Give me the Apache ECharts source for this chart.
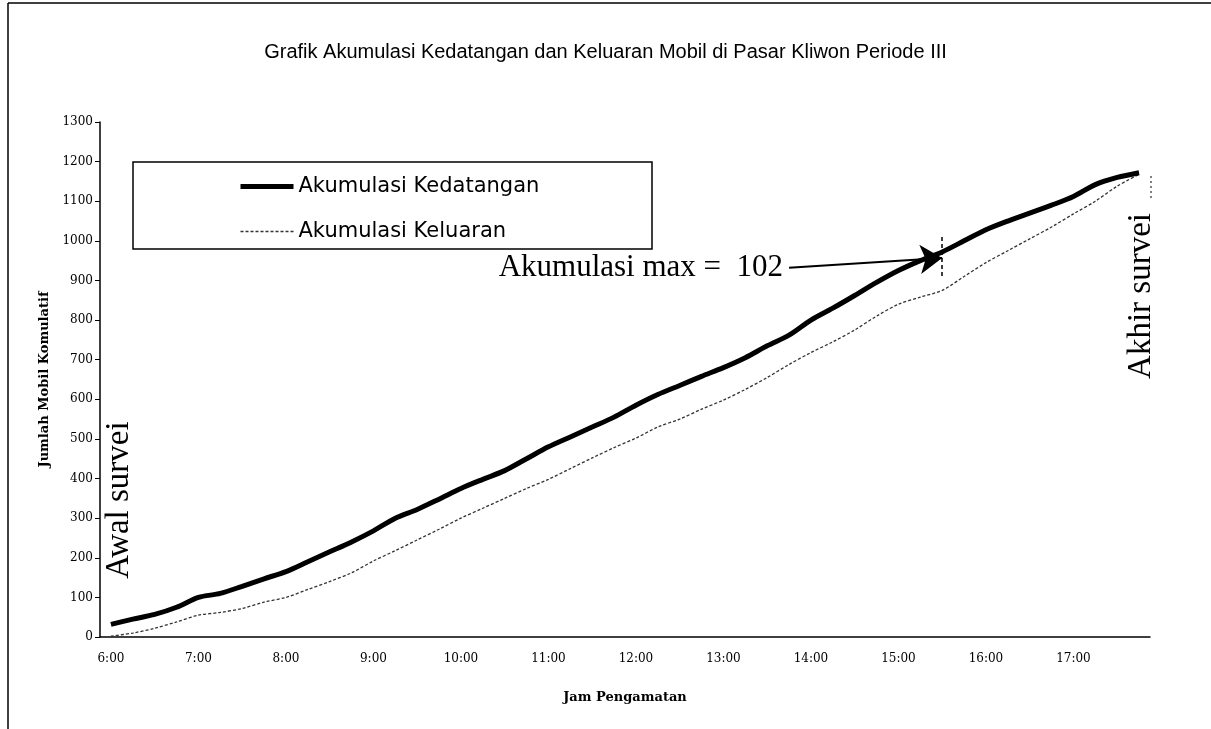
<!DOCTYPE html>
<html>
<head>
<meta charset="utf-8">
<script src="https://cdn.jsdelivr.net/npm/echarts@6/dist/echarts.min.js"></script>
<style>
html,body{margin:0;padding:0;background:#fff;}
#chart{width:1211px;height:729px;}
</style>
</head>
<body>
<div id="chart"></div>
<script>
// 15-minute observation slots, 6:00 .. 17:45
const times = ["6:00","6:15","6:30","6:45","7:00","7:15","7:30","7:45","8:00","8:15","8:30","8:45",
  "9:00","9:15","9:30","9:45","10:00","10:15","10:30","10:45","11:00","11:15","11:30","11:45",
  "12:00","12:15","12:30","12:45","13:00","13:15","13:30","13:45","14:00","14:15","14:30","14:45",
  "15:00","15:15","15:30","15:45","16:00","16:15","16:30","16:45","17:00","17:15","17:30","17:45"];
const kedatangan = [32,45,57,75,100,110,128,147,165,190,215,240,
  268,300,322,348,375,398,420,450,480,505,530,555,
  585,612,635,658,680,705,735,762,800,830,862,895,
  925,950,972,1000,1028,1050,1070,1090,1112,1142,1160,1172];
const keluaran = [2,10,22,38,55,62,72,88,100,120,140,162,
  192,218,245,272,300,325,350,375,398,425,452,478,
  502,530,550,575,598,625,655,688,718,745,775,810,
  840,858,875,910,945,975,1005,1035,1068,1100,1138,1168];
const yTicks = {min:0, max:1300, interval:100};
const maxNote = "Akumulasi max =  102";
const seriesNames = ["Akumulasi Kedatangan","Akumulasi Keluaran"];

const chart = echarts.init(document.getElementById('chart'));
const serif = "'DejaVu Serif', 'Liberation Serif', serif";
const times_ = "'Liberation Serif', 'Times New Roman', serif";
chart.setOption({
  animation:false,
  backgroundColor:'#fff',
  title:{
    text:"Grafik Akumulasi Kedatangan dan Keluaran Mobil di Pasar Kliwon Periode III",
    left:'center', top:37,
    textStyle:{fontFamily:"'Liberation Sans', Arial, sans-serif", fontSize:20, fontWeight:'normal', color:'#000'}
  },
  grid:{left:100, right:61, top:122, bottom:92, containLabel:false},
  legend:{
    data:[
      {name:seriesNames[0], lineStyle:{width:5, color:'#000'}},
      {name:seriesNames[1], lineStyle:{width:1.3, color:'#333', type:[3,2]}}
    ],
    orient:'vertical', left:233, top:171, itemWidth:53, itemHeight:14, itemGap:24,
    itemStyle:{opacity:0},
    textStyle:{fontFamily:"'DejaVu Sans', 'Noto Sans', sans-serif", fontSize:21, color:'#000'}
  },
  xAxis:[{
    type:'category', data:times, boundaryGap:true,
    name:'Jam Pengamatan', nameLocation:'middle', nameGap:54,
    nameTextStyle:{fontFamily:serif, fontSize:13, fontWeight:'bold', color:'#000'},
    axisLine:{lineStyle:{color:'#000', width:1.5}},
    axisTick:{interval:0, length:4, lineStyle:{color:'#000'}},
    axisLabel:{interval:3, margin:16, fontFamily:serif, fontSize:12, color:'#000'},
    splitLine:{show:false}
  },{
    type:'category', data:times, boundaryGap:true, position:'bottom', gridIndex:0,
    axisLine:{show:false},
    axisTick:{interval:0, length:3, inside:true, lineStyle:{color:'#000'}},
    axisLabel:{show:false}, splitLine:{show:false}
  }],
  yAxis:{
    type:'value', min:yTicks.min, max:yTicks.max, interval:yTicks.interval,
    name:'Jumlah Mobil Komulatif', nameLocation:'middle', nameGap:47, nameRotate:90,
    nameTextStyle:{fontFamily:serif, fontSize:13, fontWeight:'bold', color:'#000'},
    axisLine:{show:true, lineStyle:{color:'#000', width:1.5}},
    axisTick:{show:true, length:5, lineStyle:{color:'#000'}},
    axisLabel:{margin:7, fontFamily:serif, fontSize:12, color:'#000', formatter:v => String(v)},
    splitLine:{show:false}
  },
  graphic:[
    {type:'line', shape:{x1:8,y1:3,x2:1211,y2:3}, style:{stroke:'#000', lineWidth:1.5}, z:0},
    {type:'line', shape:{x1:8,y1:3,x2:8,y2:729}, style:{stroke:'#000', lineWidth:1.5}, z:0},
    {type:'line', shape:{x1:1151,y1:176,x2:1151,y2:200}, style:{stroke:'#000', lineWidth:1, lineDash:[2,3]}, z:5},
    {type:'rect', shape:{x:133,y:162,width:519,height:87}, style:{fill:'#fff', stroke:'#000', lineWidth:1.5}, z:1},
    {type:'text', x:119, y:500, rotation:Math.PI/2,
      style:{text:'Awal survei', fontFamily:times_, fontSize:33, fill:'#000', textAlign:'center', textVerticalAlign:'middle'}, z:5},
    {type:'text', x:1141, y:296, rotation:Math.PI/2,
      style:{text:'Akhir survei', fontFamily:times_, fontSize:33, fill:'#000', textAlign:'center', textVerticalAlign:'middle'}, z:5}
  ],
  series:[
    {
      name:seriesNames[0], type:'line', data:kedatangan, symbol:'none', smooth:0.3,
      lineStyle:{color:'#000', width:5}, itemStyle:{color:'#000'}, z:4,
      markLine:{
        silent:true, symbol:['none','arrow'], symbolSize:22, animation:false, z:6,
        lineStyle:{color:'#000', width:2, type:'solid'},
        label:{show:true, position:'start', distance:6, formatter:maxNote,
          fontFamily:times_, fontSize:31, color:'#000'},
        data:[[{coord:['13:45',932]},{coord:['15:30',957]}]]
      }
    },
    {
      name:seriesNames[1], type:'line', data:keluaran, symbol:'none', smooth:0.3,
      lineStyle:{color:'#333', width:1.3, type:[3,2]}, itemStyle:{color:'#333'}, z:3,
      markLine:{
        silent:true, symbol:['none','none'], animation:false,
        lineStyle:{color:'#000', width:1.5, type:[4,3]},
        label:{show:false},
        data:[[{coord:['15:30',1010]},{coord:['15:30',907]}]]
      }
    }
  ]
});
</script>
</body>
</html>
